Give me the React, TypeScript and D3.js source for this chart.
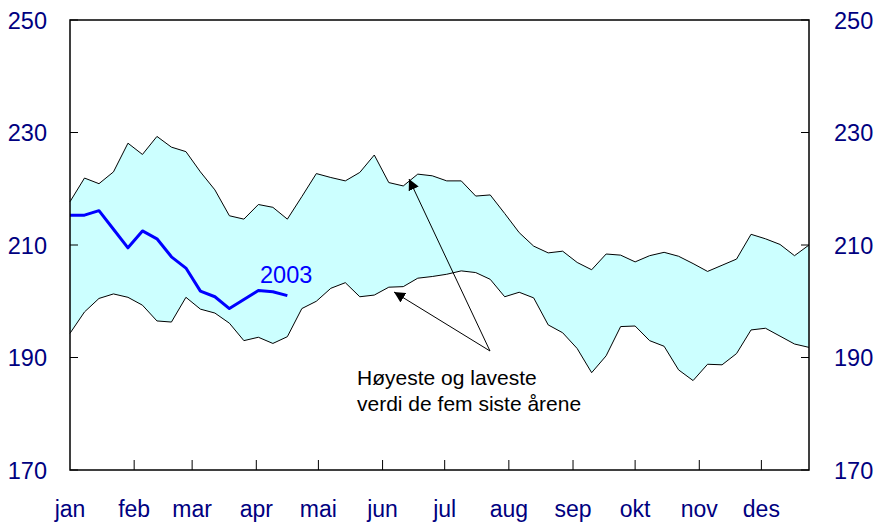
import * as d3 from "d3";

// weekly values, week 1..52
const highest = [
  217.7, 221.9, 220.9, 223.0, 228.1, 226.1, 229.3, 227.4, 226.6, 223.0,
  219.8, 215.2, 214.6, 217.2, 216.7, 214.6, 218.6, 222.7, 222.0, 221.4,
  222.9, 226.0, 221.1, 220.5, 222.6, 222.3, 221.4, 221.4, 218.7, 218.9,
  215.6, 212.2, 209.8, 208.6, 208.9, 206.9, 205.6, 208.4, 208.2, 207.0,
  208.1, 208.7, 208.0, 206.7, 205.3, 206.4, 207.5, 211.9, 211.1, 210.1,
  208.1, 210.0,
];
const lowest = [
  194.3, 198.1, 200.5, 201.3, 200.7, 199.3, 196.5, 196.3, 200.7, 198.6,
  197.9, 196.1, 193.0, 193.6, 192.5, 193.7, 198.7, 200.0, 202.3, 203.3,
  200.8, 201.1, 202.5, 202.6, 204.1, 204.4, 204.8, 205.4, 205.1, 203.9,
  200.8, 201.6, 200.6, 195.8, 194.4, 191.6, 187.3, 190.3, 195.5, 195.6,
  193.0, 192.0, 187.8, 185.9, 188.8, 188.7, 190.7, 194.9, 195.2, 193.8,
  192.4, 191.8,
];
const y2003 = [
  215.3, 215.3, 216.1, 212.8, 209.5, 212.5, 211.1, 207.9, 205.9, 201.8,
  200.8, 198.7, 200.3, 201.9, 201.7, 201.0,
];

const months = ["jan", "feb", "mar", "apr", "mai", "jun", "jul", "aug", "sep", "okt", "nov", "des"];
const monthStartDay = [1, 32, 60, 91, 121, 152, 182, 213, 244, 274, 305, 335];
const yTicks = [170, 190, 210, 230, 250];

const W = 880;
const H = 523;
const left = 70;
const right = 809;
const top = 20;
const bottom = 470;
const font = "'Liberation Sans', Arial, sans-serif";

export default function App() {
  const x = d3.scaleLinear().domain([1, 52]).range([left, right]);
  const y = d3.scaleLinear().domain([170, 250]).range([bottom, top]);

  const band = d3
    .area<number>()
    .x((_, i) => x(i + 1))
    .y0((_, i) => y(lowest[i]))
    .y1((d) => y(d));
  const line = d3
    .line<number>()
    .x((_, i) => x(i + 1))
    .y((d) => y(d));

  const monthX = (day: number) => x(1 + (day - 1) / 7);

  return (
    <svg
      width={W}
      height={H}
      style={{ position: "absolute", left: 0, top: 0, background: "#fff" }}
      fontFamily={font}
    >
      <defs>
        <marker id="arr" viewBox="0 0 10 10" refX="10" refY="5" markerWidth="11" markerHeight="11" markerUnits="userSpaceOnUse" orient="auto">
          <path d="M0,0 L10,5 L0,10 z" fill="#000" />
        </marker>
      </defs>

      <path d={band(highest) ?? ""} fill="#ccffff" stroke="none" />
      <path d={line(highest) ?? ""} fill="none" stroke="#000" strokeWidth={1} />
      <path d={line(lowest) ?? ""} fill="none" stroke="#000" strokeWidth={1} />
      <path d={line(y2003) ?? ""} fill="none" stroke="#0000ff" strokeWidth={3} strokeLinejoin="round" />

      {/* frame */}
      <rect x={left} y={top} width={right - left} height={bottom - top} fill="none" stroke="#000" strokeWidth={1.5} />

      {yTicks.map((t) => (
        <g key={t}>
          <line x1={left} x2={left + 8} y1={y(t)} y2={y(t)} stroke="#000" />
          <line x1={right - 8} x2={right} y1={y(t)} y2={y(t)} stroke="#000" />
          <text x={47} y={y(t) + 8.5} textAnchor="end" fontSize={23.5} fill="#000080">{t}</text>
          <text x={834} y={y(t) + 8.5} fontSize={23.5} fill="#000080">{t}</text>
        </g>
      ))}

      {months.map((m, i) => (
        <g key={m}>
          {i > 0 && (
            <line x1={monthX(monthStartDay[i])} x2={monthX(monthStartDay[i])} y1={bottom} y2={bottom - 10} stroke="#000" />
          )}
          <text x={monthX(monthStartDay[i])} y={517} textAnchor="middle" fontSize={23} fill="#000080">{m}</text>
        </g>
      ))}

      <text x={260} y={283} fontSize={23.5} fill="#0000ff">2003</text>

      <line x1={490} y1={351} x2={409} y2={179} stroke="#000" strokeWidth={1} markerEnd="url(#arr)" />
      <line x1={490} y1={351} x2={394} y2={292} stroke="#000" strokeWidth={1} markerEnd="url(#arr)" />

      <text x={357} y={385} fontSize={21} fill="#000">Høyeste og laveste</text>
      <text x={357} y={411} fontSize={21} fill="#000">verdi de fem siste årene</text>
    </svg>
  );
}
